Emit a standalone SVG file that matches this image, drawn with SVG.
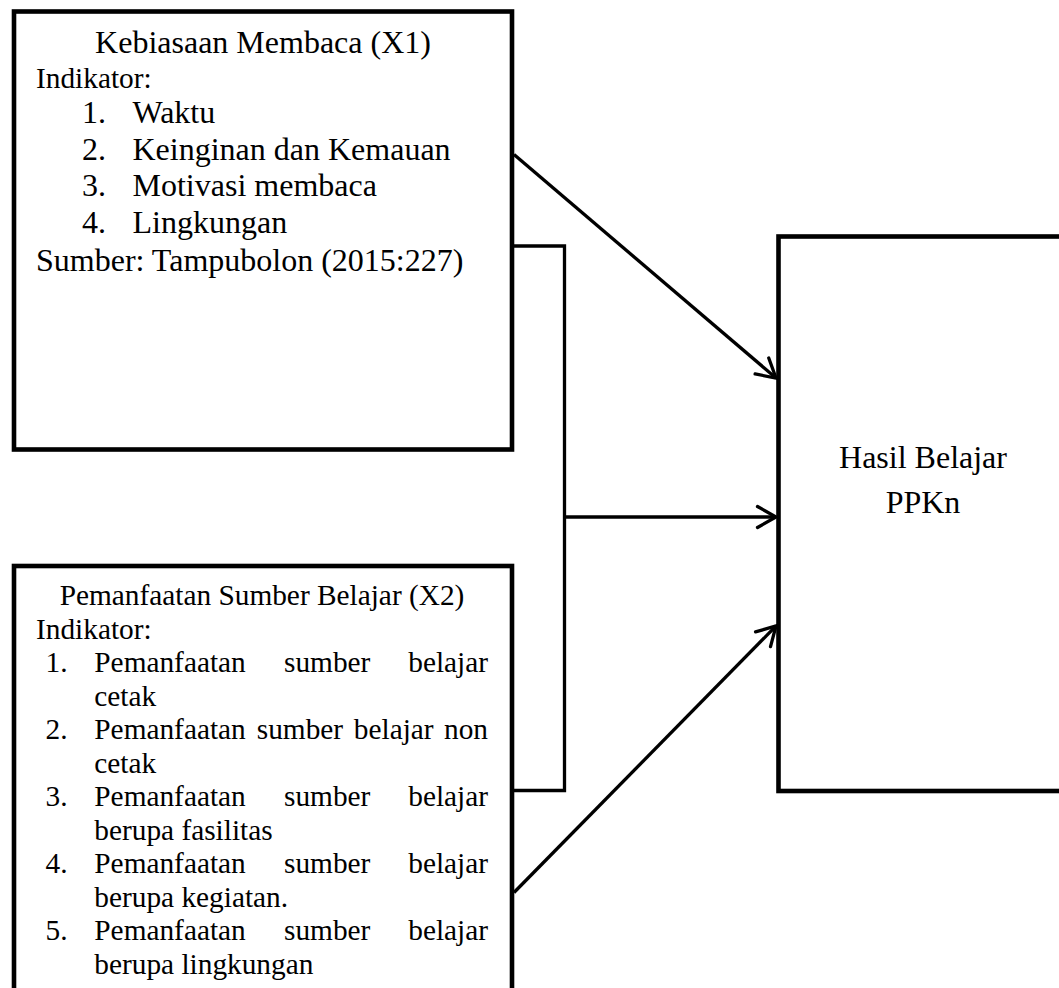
<svg xmlns="http://www.w3.org/2000/svg" width="1059" height="988" viewBox="0 0 1059 988">
<style>
  .box { fill: #ffffff; stroke: #000000; stroke-width: 4.6; }
  .conn { fill: none; stroke: #000000; stroke-width: 3.3; stroke-linejoin: miter; }
  .t { font-family: "Liberation Serif", "Times New Roman", serif; fill: #000000; }
  .b1 { font-size: 32px; }
  .b2 { font-size: 29.33px; }
</style>
<defs>
  <marker id="arrow" markerUnits="userSpaceOnUse" viewBox="-25 -15 30 30" markerWidth="30" markerHeight="30" refX="0" refY="0" orient="auto" overflow="visible">
    <path d="M -18.5,-10.5 L 0,0 L -18.5,10.5" fill="none" stroke="#000000" stroke-width="3.3" stroke-linecap="round" stroke-linejoin="miter"/>
  </marker>
</defs>
<rect width="1059" height="988" fill="#ffffff"/>

<g id="node-x1">
  <rect class="box" x="14" y="11.5" width="498" height="438"/>
  <text class="t b1" x="263" y="52.5" text-anchor="middle">Kebiasaan Membaca (X1)</text>
  <text class="t b2" x="36" y="87.5">Indikator:</text>
  <text class="t b1" x="82" y="123">1.</text>
  <text class="t b1" x="132.5" y="123">Waktu</text>
  <text class="t b1" x="82" y="159.5">2.</text>
  <text class="t b1" x="132.5" y="159.5">Keinginan dan Kemauan</text>
  <text class="t b1" x="82" y="196">3.</text>
  <text class="t b1" x="132.5" y="196">Motivasi membaca</text>
  <text class="t b1" x="82" y="233">4.</text>
  <text class="t b1" x="132.5" y="233">Lingkungan</text>
  <text class="t b1" x="36" y="270.5">Sumber: Tampubolon (2015:227)</text>
</g>

<g id="node-x2">
  <rect class="box" x="14" y="566" width="498" height="450"/>
  <text class="t b2" x="262" y="605" text-anchor="middle">Pemanfaatan Sumber Belajar (X2)</text>
  <text class="t b2" x="36" y="638.5">Indikator:</text>

  <text class="t b2" x="45.5" y="672">1.</text>
  <text class="t b2" x="94.3" y="672">Pemanfaatan</text>
  <text class="t b2" x="284" y="672">sumber</text>
  <text class="t b2" x="488" y="672" text-anchor="end">belajar</text>
  <text class="t b2" x="94.3" y="705.5">cetak</text>

  <text class="t b2" x="45.5" y="739">2.</text>
  <text class="t b2" x="94.3" y="739">Pemanfaatan</text>
  <text class="t b2" x="256.8" y="739">sumber</text>
  <text class="t b2" x="353.8" y="739">belajar</text>
  <text class="t b2" x="488" y="739" text-anchor="end">non</text>
  <text class="t b2" x="94.3" y="772.5">cetak</text>

  <text class="t b2" x="45.5" y="806">3.</text>
  <text class="t b2" x="94.3" y="806">Pemanfaatan</text>
  <text class="t b2" x="284" y="806">sumber</text>
  <text class="t b2" x="488" y="806" text-anchor="end">belajar</text>
  <text class="t b2" x="94.3" y="839.5">berupa fasilitas</text>

  <text class="t b2" x="45.5" y="873">4.</text>
  <text class="t b2" x="94.3" y="873">Pemanfaatan</text>
  <text class="t b2" x="284" y="873">sumber</text>
  <text class="t b2" x="488" y="873" text-anchor="end">belajar</text>
  <text class="t b2" x="94.3" y="906.5">berupa kegiatan.</text>

  <text class="t b2" x="45.5" y="940">5.</text>
  <text class="t b2" x="94.3" y="940">Pemanfaatan</text>
  <text class="t b2" x="284" y="940">sumber</text>
  <text class="t b2" x="488" y="940" text-anchor="end">belajar</text>
  <text class="t b2" x="94.3" y="973.5">berupa lingkungan</text>
</g>

<g id="node-y">
  <rect class="box" x="778.5" y="236.5" width="320" height="554.5"/>
  <text class="t b1" x="923" y="468" text-anchor="middle">Hasil Belajar</text>
  <text class="t b1" x="923" y="513" text-anchor="middle">PPKn</text>
</g>

<g id="connectors">
  <path class="conn" d="M 514,246 L 564.5,246 L 564.5,790.5 L 514,790.5"/>
  <line class="conn" x1="514" y1="154.5" x2="776" y2="378" marker-end="url(#arrow)"/>
  <line class="conn" x1="564.5" y1="517" x2="776" y2="517" marker-end="url(#arrow)"/>
  <line class="conn" x1="514" y1="892.5" x2="776" y2="626" marker-end="url(#arrow)"/>
</g>
</svg>
